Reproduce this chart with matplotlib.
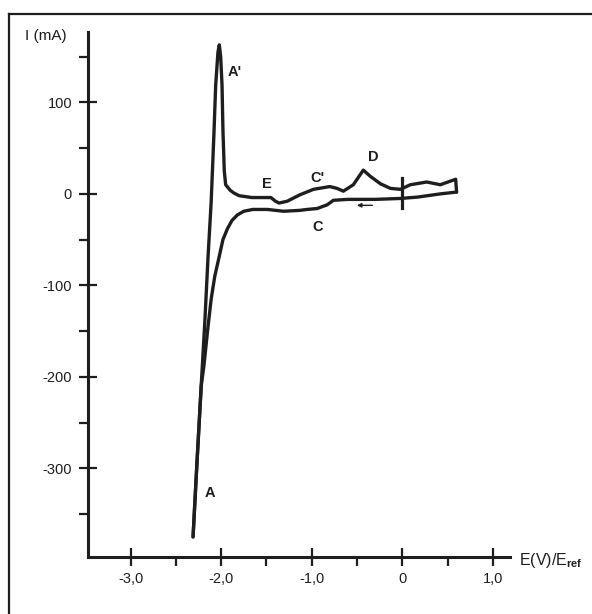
import matplotlib
matplotlib.use("Agg")
import matplotlib.pyplot as plt
from matplotlib.lines import Line2D

plt.rcParams['font.family'] = ['Liberation Sans', 'DejaVu Sans']
plt.rcParams['mathtext.fontset'] = 'custom'
plt.rcParams['mathtext.rm'] = 'Liberation Sans'
plt.rcParams['mathtext.bf'] = 'Liberation Sans:bold'

# ---- data (E in V vs E_ref, I in mA) ----
# return (anodic) branch: from A upward through A', E, C', D to the right end
upper_E = [-2.31, -2.27, -2.22, -2.18, -2.145, -2.11, -2.08, -2.06, -2.035, -2.02,
           -2.005, -1.99, -1.98, -1.965, -1.95, -1.90, -1.86, -1.80, -1.66, -1.50,
           -1.45, -1.40, -1.36, -1.27, -1.13, -0.98, -0.80, -0.72, -0.65, -0.54,
           -0.43, -0.35, -0.24, -0.13, -0.02, 0.09, 0.27, 0.42, 0.59, 0.60]
upper_I = [-375, -300, -210, -140, -70, -9, 64, 119, 155, 163,
           150, 119, 70, 25, 10, 4, 1, -2, -4, -4,
           -4, -8, -10, -8, -1, 5, 8, 6, 3, 10,
           26, 19, 11, 6, 5, 10, 13, 10, 16, 2]
# forward (cathodic) branch: from the right end leftward through C down to A
lower_E = [0.60, 0.42, 0.17, -0.02, -0.30, -0.60, -0.76, -0.83, -0.94, -1.05,
           -1.13, -1.31, -1.49, -1.65, -1.75, -1.82, -1.88, -1.93, -1.98, -2.02,
           -2.07, -2.11, -2.15, -2.19, -2.22, -2.27, -2.31]
lower_I = [2, 0, -3.5, -5, -6, -6, -7, -12, -16, -17,
           -18, -19, -17, -17, -19, -23, -29, -38, -50, -68,
           -90, -115, -150, -188, -210, -300, -375]

x_ticks = [-3, -2, -1, 0, 1]
x_ticklabels = ['-3,0', '-2,0', '-1,0', '0', '1,0']
x_minor = [-2.5, -1.5, -0.5, 0.5]
y_ticks = [100, 0, -100, -200, -300]
y_ticklabels = ['100', '0', '-100', '-200', '-300']
y_minor = [150, 50, -50, -150, -250, -350]

peak_labels = ["A'", 'E', "C'", 'D', 'C', 'A']
peak_label_E = [-1.85, -1.49, -0.94, -0.32, -0.93, -2.12]
peak_label_I = [133, 11, 17, 40, -36, -327]

marker_E = [0.0, 0.0]
marker_I = [-15, 17]
arrow_E = [-0.33, -0.50]
arrow_I = [-12.5, -12.5]

# ---- figure ----
W, H = 592, 614
fig = plt.figure(figsize=(W / 100, H / 100), dpi=100)
fig.patch.set_facecolor('white')
ax = fig.add_axes([88 / W, 57 / H, 422 / W, 525 / H])
ax.set_facecolor('none')

ink = '#1e1e1e'
ax.plot(upper_E, upper_I, color=ink, lw=2.4, solid_joinstyle='round', solid_capstyle='round')
ax.plot(lower_E, lower_I, color=ink, lw=2.4, solid_joinstyle='round', solid_capstyle='round')
ax.plot(marker_E, marker_I, color=ink, lw=2.3)
ax.annotate('', xy=(arrow_E[1], arrow_I[1]), xytext=(arrow_E[0], arrow_I[0]),
            arrowprops=dict(arrowstyle='-|>', lw=1.0, color=ink,
                            mutation_scale=6, shrinkA=0, shrinkB=0))

for lab, e, i in zip(peak_labels, peak_label_E, peak_label_I):
    ax.text(e, i, lab, fontsize=10.5, fontweight='bold', color=ink,
            ha='center', va='center')

ax.set_xlim(-3.47, 1.19)
ax.set_ylim(-397, 177)
for s in ['top', 'right']:
    ax.spines[s].set_visible(False)
for s in ['left', 'bottom']:
    ax.spines[s].set_linewidth(2.2)
    ax.spines[s].set_color(ink)

ax.set_xticks(x_ticks)
ax.set_xticklabels(x_ticklabels)
ax.set_xticks(x_minor, minor=True)
ax.set_yticks(y_ticks)
ax.set_yticklabels(y_ticklabels)
ax.set_yticks(y_minor, minor=True)
ax.tick_params(axis='both', which='major', direction='inout', length=13, width=1.6,
               color=ink, labelsize=10.5, labelcolor=ink)
ax.tick_params(axis='x', which='major', pad=4)
ax.tick_params(axis='y', which='major', pad=5)
ax.tick_params(axis='both', which='minor', direction='out', length=6.5, width=1.6, color=ink)

fig.text(519 / W, 1 - 560 / H, r'E(V)/E$_{\mathbf{ref}}$', fontsize=11.5, color=ink,
         ha='left', va='center')
fig.text(25 / W, 1 - 36 / H, 'I (mA)', fontsize=11, color=ink, ha='left', va='center')

# scanned frame lines (left and top)
fig.add_artist(Line2D([9 / W, 9 / W], [0, 1 - 14 / H], transform=fig.transFigure,
                      color=ink, lw=1.6))
fig.add_artist(Line2D([9 / W, 1], [1 - 14 / H, 1 - 14 / H], transform=fig.transFigure,
                      color=ink, lw=1.6))

fig.savefig('out.png', dpi=100, facecolor='white')
